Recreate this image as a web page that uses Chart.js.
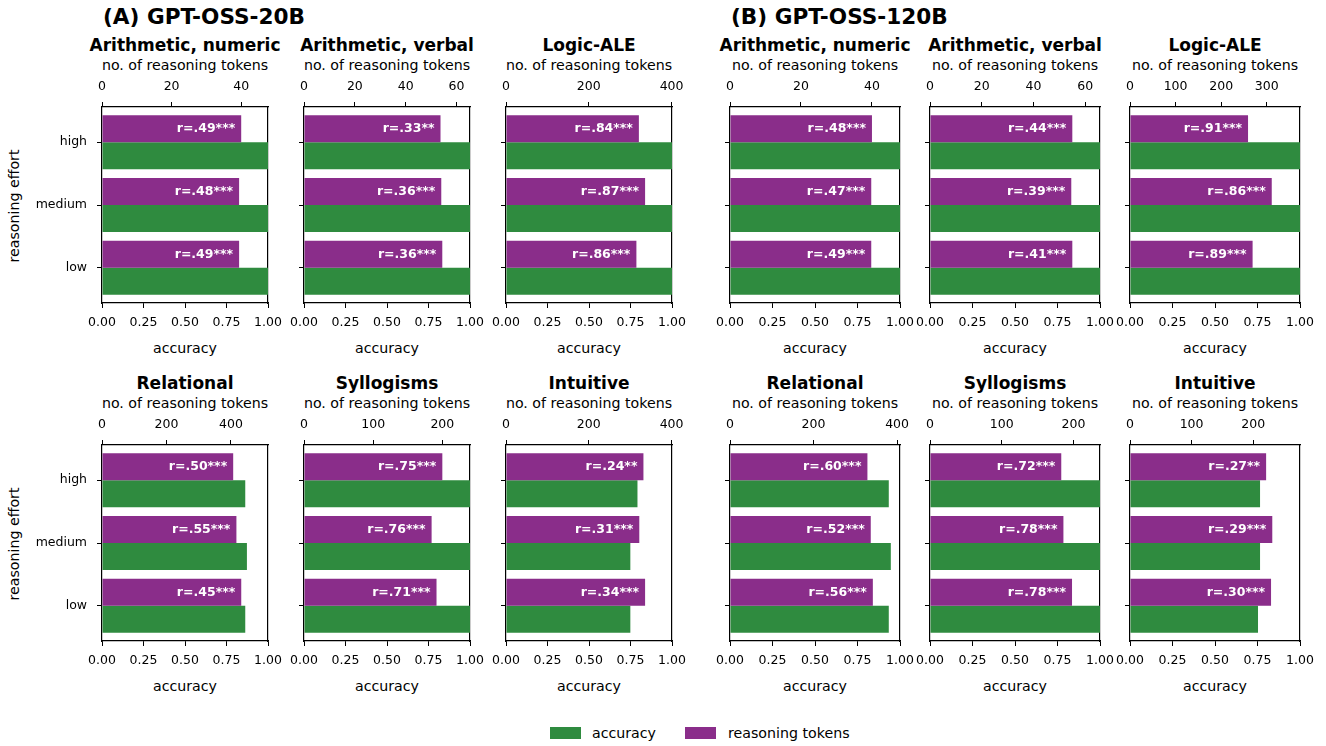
<!DOCTYPE html>
<html><head><meta charset="utf-8">
<script src="https://cdn.jsdelivr.net/npm/chart.js@4.4.1/dist/chart.umd.min.js"></script>
<style>
html,body{margin:0;padding:0;background:#fff;}
#root{position:relative;width:1326px;height:746px;overflow:hidden;font-family:'DejaVu Sans',sans-serif;color:#000;}
.t{position:absolute;white-space:nowrap;transform:translate(-50%,-50%);line-height:1;}
canvas{position:absolute;}
</style></head><body><div id="root"></div>
<script>
const efforts = ['high','medium','low'];
const tasks = ['Arithmetic, numeric','Arithmetic, verbal','Logic-ALE','Relational','Syllogisms','Intuitive'];
const modelTitles = ['(A) GPT-OSS-20B','(B) GPT-OSS-120B'];

// GPT-OSS-20B (per task: high, medium, low)
const acc20b = [[1,1,1],[1,1,1],[1,1,1],[0.863,0.873,0.863],[1,1,1],[0.792,0.749,0.749]];
const tokens20b = [[40.0,39.4,39.4],[53.7,54.0,54.4],[321,336,315],[407,417,432],[200,184.5,191.6],[332,322,336]];
const r20b = [['.49***','.48***','.49***'],['.33**','.36***','.36***'],['.84***','.87***','.86***'],['.50***','.55***','.45***'],['.75***','.76***','.71***'],['.24**','.31***','.34***']];
const tokMax20b = [47.7,65.3,401,515,240,401];
const tokStep20b = [20,20,200,200,100,200];

// GPT-OSS-120B
const acc120b = [[1,1,1],[1,1,1],[1,1,1],[0.934,0.946,0.934],[1,1,1],[0.765,0.765,0.753]];
const tokens120b = [[40.0,39.8,39.8],[55.0,54.6,55.0],[259,311,269],[329,337,342],[183,186,198],[221,231,229]];
const r120b = [['.48***','.47***','.49***'],['.44***','.39***','.41***'],['.91***','.86***','.89***'],['.60***','.52***','.56***'],['.72***','.78***','.78***'],['.27**','.29***','.30***']];
const tokMax120b = [47.9,65.7,373,407,237,276];
const tokStep120b = [20,20,100,200,100,100];

const GREEN = '#2f8b3f';
const PURPLE = '#8a2d8a';
const FONT = 'DejaVu Sans';

const root = document.getElementById('root');
function addText(txt, x, y, size, bold, extra) {
  const d = document.createElement('div');
  d.className = 't';
  d.textContent = txt;
  d.style.left = x + 'px'; d.style.top = y + 'px';
  d.style.fontSize = size + 'px';
  if (bold) d.style.fontWeight = 'bold';
  if (extra) Object.assign(d.style, extra);
  root.appendChild(d);
  return d;
}

const L = 70, R = 20, T = 40, B = 35, FH = 196;
const colLefts = [[102,304,506],[730,930,1130]];
const colWidths = [166,170];
const rowTops = [107,445];
const rowTitleY = [45,383];

function rPlugin(labels) {
  return {
    id: 'rlabels',
    afterDatasetsDraw(chart) {
      const meta = chart.getDatasetMeta(0);
      const ctx = chart.ctx;
      ctx.save();
      ctx.fillStyle = '#fff';
      ctx.font = 'bold 12.5px "' + FONT + '"';
      ctx.textAlign = 'right';
      ctx.textBaseline = 'middle';
      meta.data.forEach((bar, i) => { ctx.fillText('r=' + labels[i], bar.x - 6, bar.y + 0.5); });
      ctx.restore();
    }
  };
}

function axisCommon() {
  return {
    offset: false,
    grid: {display: true, offset: false, drawOnChartArea: false, drawTicks: true, tickLength: 5, color: '#000', lineWidth: 1},
    border: {display: true, color: '#000', width: 1.2}
  };
}

function makePanel(left, top, w, acc, tok, rl, tmax, tstep, showY) {
  const c = document.createElement('canvas');
  c.width = w + L + R; c.height = FH + T + B;
  c.style.left = (left - L) + 'px'; c.style.top = (top - T) + 'px';
  root.appendChild(c);
  const tickFont = {family: FONT, size: 12.5};
  new Chart(c, {
    type: 'bar',
    data: {datasets: [
      {label: 'reasoning tokens', data: tok.map((v, i) => ({x: v, y: i})), xAxisID: 'x2', yAxisID: 'y', backgroundColor: PURPLE, borderWidth: 0},
      {label: 'accuracy', data: acc.map((v, i) => ({x: v, y: i})), xAxisID: 'x', yAxisID: 'y', backgroundColor: GREEN, borderWidth: 0}
    ]},
    options: {
      indexAxis: 'y', responsive: false, animation: false,
      layout: {padding: 0},
      categoryPercentage: 0.86, barPercentage: 1.0,
      plugins: {legend: {display: false}, tooltip: {enabled: false}},
      scales: {
        x: Object.assign(axisCommon(), {
          type: 'linear', position: 'bottom', min: 0, max: 1,
          ticks: {stepSize: 0.25, callback: v => Number(v).toFixed(2), font: tickFont, color: '#000', padding: 7, maxRotation: 0, autoSkip: false},
          afterFit: s => { s.height = B; s.paddingLeft = 0; s.paddingRight = 0; }
        }),
        x2: Object.assign(axisCommon(), {
          type: 'linear', position: 'top', min: 0, max: tmax,
          afterBuildTicks: s => {
            const arr = [];
            for (let k = 0; k * tstep <= tmax + 1e-9; k++) arr.push({value: k * tstep});
            s.ticks = arr;
          },
          ticks: {font: tickFont, color: '#000', padding: 8, maxRotation: 0, autoSkip: false},
          afterFit: s => { s.height = T; s.paddingLeft = 0; s.paddingRight = 0; }
        }),
        y: Object.assign(axisCommon(), {
          type: 'linear', position: 'left', reverse: true, min: -0.56, max: 2.56,
          afterBuildTicks: s => { s.ticks = [0, 1, 2].map(v => ({value: v})); },
          ticks: {display: showY, callback: v => efforts[v], font: tickFont, color: '#000', padding: 10},
          afterFit: s => { s.width = L; s.paddingTop = 0; s.paddingBottom = 0; }
        }),
        y2: {
          type: 'linear', axis: 'y', position: 'right', offset: false,
          ticks: {display: false},
          grid: {display: true, offset: false, drawOnChartArea: false, drawTicks: false},
          border: {display: true, color: '#000', width: 1.2},
          afterFit: s => { s.width = R; s.paddingTop = 0; s.paddingBottom = 0; }
        }
      }
    },
    plugins: [rPlugin(rl)]
  });
}

const accAll = [acc20b, acc120b];
const tokAll = [tokens20b, tokens120b];
const rAll = [r20b, r120b];
const maxAll = [tokMax20b, tokMax120b];
const stepAll = [tokStep20b, tokStep120b];

// main titles
addText(modelTitles[0], 103, 17, 21.6, true, {transform: 'translate(0,-50%)'});
addText(modelTitles[1], 731, 17, 21.6, true, {transform: 'translate(0,-50%)'});

for (let m = 0; m < 2; m++) {
  for (let t = 0; t < 6; t++) {
    const row = Math.floor(t / 3), col = t % 3;
    const left = colLefts[m][col], w = colWidths[m], top = rowTops[row];
    const cx = left + w / 2;
    addText(tasks[t], cx, rowTitleY[row], 17, true);
    addText('no. of reasoning tokens', cx, rowTitleY[row] + 20, 14.2, false);
    addText('accuracy', cx, top + FH + 45, 14.2, false);
    makePanel(left, top, w, accAll[m][t], tokAll[m][t], rAll[m][t], maxAll[m][t], stepAll[m][t], m === 0 && col === 0);
  }
}
// y-axis titles
for (let row = 0; row < 2; row++) {
  addText('reasoning effort', 14, rowTops[row] + FH / 2 + 1, 14.2, false, {transform: 'translate(-50%,-50%) rotate(-90deg)'});
}

// legend
function legendItem(color, label, boxX, textX) {
  const b = document.createElement('div');
  Object.assign(b.style, {position: 'absolute', left: boxX + 'px', top: '727px', width: '31px', height: '12px', background: color});
  root.appendChild(b);
  addText(label, textX, 733, 14.2, false, {transform: 'translate(0,-50%)'});
}
legendItem(GREEN, 'accuracy', 550, 592);
legendItem(PURPLE, 'reasoning tokens', 685, 728);
</script>
</body></html>
